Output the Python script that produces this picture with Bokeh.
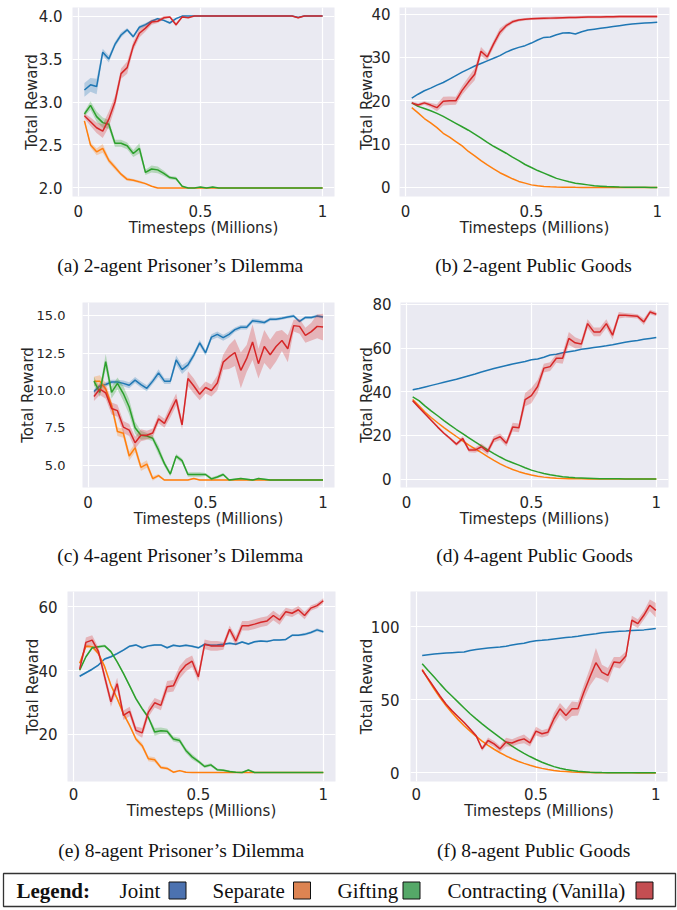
import numpy as np
from bokeh.plotting import figure
from bokeh.layouts import column, row
from bokeh.models import Range1d, FixedTicker
from bokeh.core.properties import value
from bokeh.embed import file_html
from bokeh.resources import INLINE

# ---------------- data ----------------
TIMESTEPS = [0.025, 0.05, 0.075, 0.1, 0.125, 0.15, 0.175, 0.2, 0.225, 0.25,
             0.275, 0.3, 0.325, 0.35, 0.375, 0.4, 0.425, 0.45, 0.475, 0.5,
             0.525, 0.55, 0.575, 0.6, 0.625, 0.65, 0.675, 0.7, 0.725, 0.75,
             0.775, 0.8, 0.825, 0.85, 0.875, 0.9, 0.925, 0.95, 0.975, 1.0]

METHODS = ["Joint", "Separate", "Gifting", "Contracting (Vanilla)"]
LINE_COLORS = ["#1f77b4", "#ff7f0e", "#2ca02c", "#d62728"]
LEGEND_COLORS = ["#4c72b0", "#dd8452", "#55a868", "#c44e52"]

X_TICKS = [0, 0.5, 1]
X_TICK_LABELS = ["0", "0.5", "1"]

# (a) 2-agent Prisoner's Dilemma
a_joint = [3.14, 3.20, 3.18, 3.58, 3.50, 3.67, 3.78, 3.84, 3.76, 3.87,
           3.90, 3.94, 3.97, 3.95, 3.92, 3.97, 4.0, 4.0, 4.0, 4.0,
           4.0, 4.0, 4.0, 4.0, 4.0, 4.0, 4.0, 4.0, 4.0, 4.0,
           4.0, 4.0, 4.0, 4.0, 4.0, 3.985, 4.0, 4.0, 4.0, 4.0]
a_joint_sd = [0.08, 0.08, 0.09, 0.04, 0.04, 0.03, 0.03, 0.02, 0.02, 0.02,
              0.02, 0.015, 0.01, 0.01, 0.015, 0.01, 0.005, 0.0, 0.0, 0.0,
              0.0, 0.0, 0.0, 0.0, 0.0, 0.0, 0.0, 0.0, 0.0, 0.0,
              0.0, 0.0, 0.0, 0.0, 0.0, 0.01, 0.0, 0.0, 0.0, 0.0]
a_sep = [2.78, 2.50, 2.42, 2.46, 2.32, 2.24, 2.16, 2.10, 2.09, 2.07,
         2.05, 2.02, 2.0, 2.0, 2.0, 2.0, 2.0, 2.0, 2.0, 2.0,
         2.0, 2.0, 2.0, 2.0, 2.0, 2.0, 2.0, 2.0, 2.0, 2.0,
         2.0, 2.0, 2.0, 2.0, 2.0, 2.0, 2.0, 2.0, 2.0, 2.0]
a_sep_sd = [0.02, 0.03, 0.04, 0.05, 0.03, 0.03, 0.02, 0.02, 0.015, 0.015,
            0.01, 0.005, 0.0, 0.0, 0.0, 0.0, 0.0, 0.0, 0.0, 0.0,
            0.0, 0.0, 0.0, 0.0, 0.0, 0.0, 0.0, 0.0, 0.0, 0.0,
            0.0, 0.0, 0.0, 0.0, 0.0, 0.0, 0.0, 0.0, 0.0, 0.0]
a_gift = [2.86, 2.96, 2.83, 2.76, 2.74, 2.52, 2.52, 2.49, 2.40, 2.46,
          2.18, 2.22, 2.21, 2.17, 2.12, 2.11, 2.02, 2.0, 2.0, 2.01,
          2.0, 2.01, 2.0, 2.0, 2.0, 2.0, 2.0, 2.0, 2.0, 2.0,
          2.0, 2.0, 2.0, 2.0, 2.0, 2.0, 2.0, 2.0, 2.0, 2.0]
a_gift_sd = [0.03, 0.05, 0.06, 0.06, 0.05, 0.04, 0.04, 0.04, 0.04, 0.06,
             0.03, 0.04, 0.04, 0.03, 0.02, 0.02, 0.01, 0.0, 0.0, 0.005,
             0.0, 0.005, 0.0, 0.0, 0.0, 0.0, 0.0, 0.0, 0.0, 0.0,
             0.0, 0.0, 0.0, 0.0, 0.0, 0.0, 0.0, 0.0, 0.0, 0.0]
a_con = [2.84, 2.77, 2.70, 2.66, 2.80, 3.00, 3.33, 3.40, 3.65, 3.80,
         3.86, 3.93, 3.94, 3.98, 3.99, 3.90, 3.99, 3.98, 4.0, 4.0,
         4.0, 4.0, 4.0, 4.0, 4.0, 4.0, 4.0, 4.0, 4.0, 4.0,
         4.0, 4.0, 4.0, 4.0, 4.0, 3.98, 4.0, 4.0, 4.0, 4.0]
a_con_sd = [0.03, 0.05, 0.06, 0.08, 0.09, 0.07, 0.06, 0.07, 0.05, 0.05,
            0.04, 0.03, 0.02, 0.02, 0.01, 0.02, 0.01, 0.0, 0.0, 0.0,
            0.0, 0.0, 0.0, 0.0, 0.0, 0.0, 0.0, 0.0, 0.0, 0.0,
            0.0, 0.0, 0.0, 0.0, 0.0, 0.01, 0.0, 0.0, 0.0, 0.0]
A_YTICKS = [2.0, 2.5, 3.0, 3.5, 4.0]
A_YLABELS = ["2.0", "2.5", "3.0", "3.5", "4.0"]

# (b) 2-agent Public Goods
b_joint = [20.6, 21.5, 22.3, 22.9, 23.6, 24.2, 25.0, 25.8, 26.6, 27.3,
           28.0, 28.6, 29.2, 29.8, 30.4, 31.2, 31.8, 32.3, 32.7, 33.3,
           34.0, 34.6, 34.7, 35.2, 35.6, 35.7, 35.4, 35.9, 36.3, 36.5,
           36.7, 36.9, 37.1, 37.3, 37.5, 37.7, 37.8, 37.9, 38.0, 38.1]
b_sep = [18.4, 17.2, 15.9, 14.9, 13.8, 12.5, 11.6, 10.6, 9.6, 8.3,
         7.3, 6.2, 5.2, 4.3, 3.4, 2.7, 2.0, 1.4, 1.0, 0.6,
         0.4, 0.25, 0.15, 0.1, 0.07, 0.05, 0.03, 0.02, 0.02, 0.01,
         0.01, 0.01, 0.0, 0.0, 0.0, 0.0, 0.0, 0.0, 0.0, 0.0]
b_gift = [19.5, 18.7, 18.2, 17.7, 17.1, 16.4, 15.6, 14.8, 14.0, 13.2,
          12.3, 11.4, 10.4, 9.5, 8.7, 7.9, 7.0, 6.2, 5.3, 4.6,
          3.9, 3.3, 2.7, 2.1, 1.7, 1.3, 1.0, 0.8, 0.6, 0.4,
          0.3, 0.2, 0.15, 0.1, 0.08, 0.05, 0.04, 0.03, 0.02, 0.02]
b_con = [19.5, 19.0, 19.5, 19.0, 18.4, 19.9, 20.0, 20.0, 22.4, 24.3,
         26.1, 31.4, 30.1, 33.1, 35.8, 37.3, 38.2, 38.6, 38.8, 38.9,
         38.95, 39.0, 39.05, 39.1, 39.15, 39.2, 39.2, 39.25, 39.3, 39.3,
         39.3, 39.35, 39.35, 39.4, 39.4, 39.4, 39.4, 39.4, 39.4, 39.4]
b_con_sd = [0.3, 0.4, 0.4, 0.5, 0.8, 1.0, 1.0, 0.9, 1.0, 1.2,
            1.4, 1.0, 0.8, 0.8, 0.9, 0.5, 0.4, 0.3, 0.3, 0.3,
            0.3, 0.3, 0.3, 0.3, 0.3, 0.3, 0.3, 0.3, 0.3, 0.3,
            0.3, 0.3, 0.3, 0.3, 0.3, 0.3, 0.3, 0.3, 0.3, 0.3]
B_YTICKS = [0, 10, 20, 30, 40]
B_YLABELS = ["0", "10", "20", "30", "40"]

# (c) 4-agent Prisoner's Dilemma
c_joint = [9.93, 10.3, 10.4, 10.57, 10.57, 10.48, 10.35, 10.7, 10.4, 10.15,
           10.63, 11.18, 10.63, 10.63, 12.05, 11.4, 11.72, 12.38, 13.19, 12.53,
           13.58, 13.76, 13.54, 13.76, 14.08, 14.24, 14.24, 14.67, 14.63, 14.56,
           14.78, 14.78, 14.85, 14.93, 15.0, 14.63, 14.9, 14.9, 15.0, 14.93]
c_joint_sd = [0.15, 0.15, 0.15, 0.15, 0.15, 0.2, 0.2, 0.2, 0.2, 0.2,
              0.2, 0.25, 0.2, 0.2, 0.3, 0.3, 0.25, 0.2, 0.2, 0.2,
              0.2, 0.2, 0.2, 0.2, 0.15, 0.15, 0.15, 0.15, 0.15, 0.12,
              0.12, 0.1, 0.1, 0.1, 0.1, 0.1, 0.1, 0.1, 0.1, 0.1]
c_sep = [10.63, 10.63, 10.1, 9.0, 7.25, 7.14, 5.61, 6.16, 4.85, 5.07,
         4.1, 4.3, 4.0, 4.0, 4.0, 4.0, 4.0, 4.1, 4.0, 4.0,
         4.0, 4.0, 4.0, 4.0, 4.0, 4.0, 4.0, 4.0, 4.0, 4.0,
         4.0, 4.0, 4.0, 4.0, 4.0, 4.0, 4.0, 4.0, 4.0, 4.0]
c_sep_sd = [0.3, 0.4, 0.4, 0.3, 0.3, 0.3, 0.3, 0.3, 0.25, 0.25,
            0.15, 0.1, 0.03, 0.03, 0.03, 0.03, 0.03, 0.03, 0.03, 0.03,
            0.03, 0.03, 0.03, 0.03, 0.03, 0.03, 0.03, 0.03, 0.03, 0.03,
            0.03, 0.03, 0.03, 0.03, 0.03, 0.03, 0.03, 0.03, 0.03, 0.03]
c_gift = [10.63, 9.87, 11.94, 9.87, 10.48, 9.8, 8.9, 7.5, 7.0, 6.95,
          6.8, 6.0, 5.1, 4.4, 5.6, 5.3, 4.37, 4.37, 4.37, 4.37,
          4.08, 4.2, 4.37, 4.0, 4.05, 4.1, 4.05, 4.0, 4.1, 4.05,
          4.0, 4.0, 4.0, 4.0, 4.0, 4.0, 4.0, 4.0, 4.0, 4.0]
c_gift_sd = [0.3, 0.3, 0.5, 0.4, 0.4, 0.5, 0.5, 0.4, 0.3, 0.2,
             0.2, 0.3, 0.2, 0.15, 0.15, 0.15, 0.15, 0.15, 0.15, 0.1,
             0.1, 0.1, 0.1, 0.05, 0.05, 0.05, 0.05, 0.05, 0.05, 0.05,
             0.05, 0.05, 0.05, 0.05, 0.05, 0.05, 0.05, 0.05, 0.05, 0.05]
c_con = [9.6, 10.1, 9.85, 8.8, 8.65, 7.55, 7.35, 6.5, 7.0, 7.0,
         7.15, 8.1, 7.8, 8.6, 9.4, 7.7, 10.8, 10.3, 9.75, 10.2,
         10.0, 10.5, 11.9, 12.25, 12.55, 11.35, 12.15, 13.25, 11.8, 12.95,
         12.4, 12.95, 13.35, 12.8, 14.35, 14.3, 13.7, 13.95, 14.3, 14.25]
c_con_sd = [0.3, 0.4, 0.4, 0.4, 0.4, 0.4, 0.4, 0.4, 0.4, 0.3,
            0.3, 0.3, 0.3, 0.4, 0.4, 0.3, 0.5, 0.5, 0.4, 0.4,
            0.4, 0.5, 0.5, 0.8, 0.9, 1.2, 0.9, 1.2, 1.0, 1.1,
            1.0, 1.0, 0.7, 0.9, 0.4, 0.5, 0.5, 0.6, 0.8, 0.9]
C_YTICKS = [5.0, 7.5, 10.0, 12.5, 15.0]
C_YLABELS = ["5.0", "7.5", "10.0", "12.5", "15.0"]

# (d) 4-agent Public Goods
d_joint = [40.9, 41.5, 42.2, 42.9, 43.6, 44.3, 45.0, 45.7, 46.5, 47.3,
           48.1, 49.0, 49.8, 50.6, 51.3, 52.0, 52.7, 53.3, 53.8, 54.6,
           55.0, 55.8, 56.8, 57.2, 57.8, 58.3, 58.8, 59.4, 59.8, 60.2,
           60.6, 61.0, 61.5, 62.1, 62.6, 63.1, 63.5, 64.0, 64.4, 64.8]
d_sep = [36.4, 33.6, 30.6, 28.1, 25.8, 23.6, 21.5, 19.5, 17.5, 15.6,
         13.8, 12.1, 10.3, 8.6, 7.0, 5.6, 4.4, 3.4, 2.6, 1.9,
         1.3, 0.9, 0.6, 0.4, 0.3, 0.2, 0.1, 0.1, 0.05, 0.05,
         0.03, 0.02, 0.02, 0.01, 0.01, 0.01, 0.0, 0.0, 0.0, 0.0]
d_gift = [37.6, 35.9, 33.4, 31.1, 29.0, 26.8, 24.7, 22.7, 20.8, 18.9,
          17.0, 15.2, 13.4, 11.7, 10.1, 8.6, 7.5, 6.4, 5.2, 4.1,
          3.3, 2.6, 2.0, 1.5, 1.1, 0.8, 0.6, 0.5, 0.4, 0.3,
          0.2, 0.15, 0.1, 0.1, 0.05, 0.05, 0.03, 0.02, 0.02, 0.02]
d_con = [35.9, 32.8, 29.8, 26.8, 23.8, 21.0, 18.6, 16.0, 18.6, 13.3,
         13.3, 14.8, 12.6, 18.2, 19.4, 16.4, 23.8, 23.5, 36.4, 38.2,
         42.4, 50.8, 51.5, 55.3, 55.3, 64.4, 62.4, 61.8, 71.2, 67.4,
         67.4, 71.2, 65.9, 75.0, 75.0, 74.8, 74.5, 72.0, 76.5, 75.5]
d_con_sd = [0.5, 0.5, 0.5, 0.5, 0.5, 0.6, 0.7, 0.8, 1.0, 1.0,
            1.2, 1.5, 1.5, 1.5, 1.5, 1.5, 2.0, 2.0, 3.0, 3.5,
            3.0, 2.0, 2.0, 2.0, 2.5, 3.0, 2.5, 2.0, 2.0, 2.0,
            2.0, 2.0, 2.0, 1.5, 1.0, 1.0, 1.0, 1.5, 1.0, 1.0]
D_YTICKS = [0, 20, 40, 60, 80]
D_YLABELS = ["0", "20", "40", "60", "80"]

# (e) 8-agent Prisoner's Dilemma
e_joint = [38.2, 39.3, 40.4, 41.7, 43.6, 44.3, 45.3, 46.4, 47.6, 48.0,
           47.1, 47.7, 48.0, 48.0, 47.1, 47.9, 47.6, 47.9, 47.6, 47.1,
           48.2, 47.9, 48.0, 48.2, 48.5, 48.2, 48.9, 48.3, 49.0, 49.2,
           49.1, 49.5, 49.5, 49.7, 51.0, 51.0, 51.3, 51.9, 52.7, 52.1]
e_joint_sd = [0.3, 0.3, 0.3, 0.3, 0.3, 0.3, 0.3, 0.3, 0.3, 0.3,
              0.3, 0.3, 0.3, 0.3, 0.3, 0.3, 0.3, 0.3, 0.3, 0.3,
              0.3, 0.3, 0.3, 0.3, 0.3, 0.3, 0.3, 0.3, 0.3, 0.3,
              0.3, 0.3, 0.3, 0.3, 0.3, 0.3, 0.4, 0.4, 0.5, 0.4]
e_sep = [42.3, 47.6, 47.4, 45.3, 41.2, 35.4, 31.2, 26.5, 22.8, 18.6,
         16.5, 12.4, 12.1, 9.7, 9.4, 8.2, 8.7, 8.2, 8.1, 8.1,
         8.1, 8.1, 8.1, 8.1, 8.1, 8.1, 8.1, 8.1, 8.1, 8.1,
         8.1, 8.1, 8.1, 8.1, 8.1, 8.1, 8.1, 8.1, 8.1, 8.1]
e_sep_sd = [0.3, 0.5, 0.5, 0.5, 0.5, 0.5, 0.5, 0.5, 0.6, 0.6,
            0.8, 0.8, 0.8, 0.5, 0.4, 0.3, 0.3, 0.2, 0.1, 0.1,
            0.1, 0.1, 0.1, 0.1, 0.1, 0.1, 0.1, 0.1, 0.1, 0.1,
            0.1, 0.1, 0.1, 0.1, 0.1, 0.1, 0.1, 0.1, 0.1, 0.1]
e_gift = [40.1, 44.3, 47.1, 47.4, 47.7, 45.9, 42.7, 39.1, 35.2, 31.2,
          28.1, 25.3, 20.8, 21.2, 21.0, 18.6, 18.1, 15.0, 13.0, 11.6,
          10.0, 10.5, 9.0, 8.8, 8.4, 8.2, 8.1, 8.9, 8.1, 8.1,
          8.1, 8.1, 8.1, 8.1, 8.1, 8.1, 8.1, 8.1, 8.1, 8.1]
e_gift_sd = [0.3, 0.4, 0.4, 0.4, 0.4, 0.4, 0.4, 0.4, 0.5, 0.5,
             0.5, 0.6, 1.2, 1.0, 0.8, 0.8, 0.8, 0.8, 0.8, 0.6,
             0.5, 0.5, 0.4, 0.3, 0.3, 0.2, 0.2, 0.2, 0.1, 0.1,
             0.1, 0.1, 0.1, 0.1, 0.1, 0.1, 0.1, 0.1, 0.1, 0.1]
e_con = [40.5, 48.8, 49.5, 46.0, 38.0, 30.2, 35.9, 26.0, 27.2, 21.3,
         20.5, 27.0, 29.9, 29.1, 34.9, 35.2, 39.4, 41.7, 42.9, 38.0,
         48.2, 47.7, 47.7, 47.7, 52.9, 49.2, 54.0, 54.0, 54.5, 55.1,
         55.5, 57.2, 55.8, 58.4, 57.9, 59.0, 57.2, 59.5, 60.3, 61.8]
e_con_sd = [1.0, 1.5, 1.5, 1.2, 1.5, 1.5, 1.8, 1.5, 1.5, 1.2,
            1.5, 1.5, 1.5, 1.5, 1.8, 1.8, 2.0, 2.0, 1.8, 1.5,
            1.5, 1.5, 1.5, 1.2, 1.2, 1.5, 1.5, 1.5, 1.5, 1.5,
            1.5, 1.5, 1.5, 1.2, 1.2, 1.2, 1.2, 0.8, 0.8, 0.8]
E_YTICKS = [20, 40, 60]
E_YLABELS = ["20", "40", "60"]

# (f) 8-agent Public Goods
f_joint = [80.5, 81.0, 81.4, 81.8, 82.2, 82.4, 82.6, 82.8, 83.8, 84.6,
           85.1, 85.5, 85.9, 86.3, 86.8, 87.6, 88.3, 88.8, 89.9, 90.6,
           90.9, 91.3, 91.8, 92.3, 92.8, 93.2, 93.7, 94.3, 94.9, 95.4,
           96.0, 96.4, 96.7, 97.0, 97.2, 97.5, 97.8, 98.0, 98.5, 98.9]
f_sep = [70.9, 64.0, 57.5, 51.5, 46.0, 41.0, 36.5, 32.3, 28.5, 25.0,
         21.8, 18.9, 16.2, 13.8, 11.6, 9.7, 8.0, 6.5, 5.2, 4.1,
         3.1, 2.3, 1.7, 1.2, 0.9, 0.6, 0.4, 0.3, 0.2, 0.1,
         0.1, 0.05, 0.05, 0.03, 0.02, 0.02, 0.01, 0.01, 0.0, 0.0]
f_gift = [74.8, 70.1, 65.7, 61.0, 56.5, 52.5, 48.5, 44.5, 40.5, 37.0,
          33.6, 30.3, 27.2, 24.1, 21.1, 18.4, 15.8, 13.4, 11.2, 9.2,
          7.3, 5.7, 4.3, 3.2, 2.3, 1.7, 1.1, 0.8, 0.5, 0.35,
          0.2, 0.15, 0.1, 0.1, 0.05, 0.05, 0.05, 0.03, 0.03, 0.03]
f_con = [70.3, 64.5, 58.5, 52.5, 47.0, 42.5, 38.5, 34.5, 30.0, 25.5,
         16.5, 22.2, 19.9, 16.5, 21.1, 20.5, 22.2, 23.3, 20.6, 28.6,
         26.8, 27.9, 37.1, 43.9, 39.4, 43.9, 43.9, 55.4, 65.7, 75.5,
         69.1, 66.8, 76.0, 75.5, 80.1, 104.6, 102.3, 108.0, 114.9, 111.4]
f_con_sd = [0.5, 0.5, 0.5, 0.5, 0.5, 0.5, 0.6, 0.8, 1.0, 1.0,
            1.5, 2.0, 2.0, 2.0, 3.0, 2.5, 2.5, 3.0, 2.5, 3.0,
            2.5, 2.5, 4.0, 4.0, 4.0, 5.0, 4.5, 5.0, 6.0, 10.0,
            5.0, 5.0, 3.5, 4.0, 3.0, 3.0, 3.0, 3.0, 4.0, 5.0]
F_YTICKS = [0, 50, 100]
F_YLABELS = ["0", "50", "100"]

CAPTIONS = ["(a) 2-agent Prisoner\u2019s Dilemma", "(b) 2-agent Public Goods",
            "(c) 4-agent Prisoner\u2019s Dilemma", "(d) 4-agent Public Goods",
            "(e) 8-agent Prisoner\u2019s Dilemma", "(f) 8-agent Public Goods"]

PANELS = {
    "a": dict(series=[a_joint, a_sep, a_gift, a_con], sds=[a_joint_sd, a_sep_sd, a_gift_sd, a_con_sd],
              yticks=A_YTICKS, ylabels=A_YLABELS, ylim=(1.9, 4.1)),
    "b": dict(series=[b_joint, b_sep, b_gift, b_con], sds=[None, None, None, b_con_sd],
              yticks=B_YTICKS, ylabels=B_YLABELS, ylim=(-2.08, 41.5)),
    "c": dict(series=[c_joint, c_sep, c_gift, c_con], sds=[c_joint_sd, c_sep_sd, c_gift_sd, c_con_sd],
              yticks=C_YTICKS, ylabels=C_YLABELS, ylim=(3.5, 15.9)),
    "d": dict(series=[d_joint, d_sep, d_gift, d_con], sds=[None, None, None, d_con_sd],
              yticks=D_YTICKS, ylabels=D_YLABELS, ylim=(-3.85, 80.85)),
    "e": dict(series=[e_joint, e_sep, e_gift, e_con], sds=[e_joint_sd, e_sep_sd, e_gift_sd, e_con_sd],
              yticks=E_YTICKS, ylabels=E_YLABELS, ylim=(5.3, 64.7)),
    "f": dict(series=[f_joint, f_sep, f_gift, f_con], sds=[None, None, None, f_con_sd],
              yticks=F_YTICKS, ylabels=F_YLABELS, ylim=(-5.9, 124.3)),
}

# ---------------- layout / style ----------------
XLIM = (-0.02375, 1.04875)
LAYOUT = {
    "a": dict(w=338, h=250, left=72, right=4, top=6, fh=190, ystand=4, ylab=-5, xstand=2, ysize="15px"),
    "b": dict(w=339, h=250, left=61, right=8, top=7, fh=190, ystand=3, ylab=-8, xstand=2, ysize="15px"),
    "c": dict(w=338, h=250, left=82, right=4, top=8, fh=189, ystand=11, ylab=-3, xstand=2, ysize="13px"),
    "d": dict(w=339, h=250, left=62, right=9, top=12, fh=186, ystand=3, ylab=-7, xstand=2, ysize="15px"),
    "e": dict(w=338, h=255, left=67, right=3, top=11, fh=190, ystand=4, ylab=-7, xstand=0, ysize="15px"),
    "f": dict(w=339, h=255, left=72, right=10, top=11, fh=190, ystand=5, ylab=-8, xstand=0, ysize="15px"),
}
AX_FONT = "DejaVu Sans"
AX_SIZE = "15px"
TXT = "#262626"
SERIF = "Liberation Serif"


def make_panel(key):
    d = PANELS[key]
    L = LAYOUT[key]
    p = figure(width=L["w"], height=L["h"],
               x_range=Range1d(*XLIM), y_range=Range1d(*d["ylim"]),
               output_backend="svg", toolbar_location=None,
               min_border_left=L["left"], min_border_right=L["right"],
               min_border_top=L["top"], min_border_bottom=L["h"] - L["top"] - L["fh"])
    p.background_fill_color = "#eaeaf2"
    p.border_fill_color = "white"
    p.outline_line_color = None

    x = np.array(TIMESTEPS)
    for ys, sd, col in zip(d["series"], d["sds"], LINE_COLORS):
        y = np.array(ys)
        if sd is not None:
            s = np.array(sd)
            p.varea(x=x, y1=y - s, y2=y + s, fill_color=col, fill_alpha=0.28)
        p.line(x, y, line_color=col, line_width=1.5)

    p.xaxis.ticker = FixedTicker(ticks=X_TICKS)
    p.xaxis.major_label_overrides = {t: l for t, l in zip(X_TICKS, X_TICK_LABELS)}
    p.yaxis.ticker = FixedTicker(ticks=d["yticks"])
    p.yaxis.major_label_overrides = {t: l for t, l in zip(d["yticks"], d["ylabels"])}
    p.xgrid.ticker = FixedTicker(ticks=X_TICKS)
    p.ygrid.ticker = FixedTicker(ticks=d["yticks"])
    for g in (p.xgrid, p.ygrid):
        g.grid_line_color = "white"
        g.grid_line_width = 1.2

    p.xaxis.axis_label = "Timesteps (Millions)"
    p.yaxis.axis_label = "Total Reward"
    for ax in (p.xaxis, p.yaxis):
        ax.axis_line_color = None
        ax.major_tick_line_color = None
        ax.minor_tick_line_color = None
        ax.major_label_text_font = AX_FONT
        ax.major_label_text_font_size = AX_SIZE
        ax.major_label_text_color = TXT
        ax.axis_label_text_font = AX_FONT
        ax.axis_label_text_font_size = AX_SIZE
        ax.axis_label_text_font_style = "normal"
        ax.axis_label_text_color = TXT
    p.yaxis.major_label_text_font_size = L["ysize"]
    p.xaxis.major_label_standoff = L["xstand"]
    p.xaxis.axis_label_standoff = -1
    p.yaxis.major_label_standoff = L["ystand"]
    p.yaxis.axis_label_standoff = L["ylab"]
    return p


def caption_strip(h, yc, texts, xs):
    p = figure(width=677, height=h, x_range=Range1d(0, 677), y_range=Range1d(h, 0),
               output_backend="svg", toolbar_location=None, min_border=0,
               x_axis_location=None, y_axis_location=None)
    p.grid.visible = False
    p.outline_line_color = None
    p.text(x=xs, y=[yc] * len(texts), text=texts, text_align="center",
           text_baseline="middle", text_font=value(SERIF), text_font_size="19.5px",
           text_color="#111111")
    return p


def legend_strip():
    p = figure(width=677, height=40, x_range=Range1d(3, 675), y_range=Range1d(36, 3),
               output_backend="svg", toolbar_location=None,
               min_border_left=3, min_border_right=2, min_border_top=3, min_border_bottom=4,
               x_axis_location=None, y_axis_location=None)
    p.grid.visible = False
    p.outline_line_color = "#333333"
    p.outline_line_width = 1.3
    p.text(x=[16], y=[20], text=["Legend:"], text_align="left", text_baseline="middle",
           text_font=value(SERIF), text_font_size="21px", text_font_style="bold",
           text_color="#111111")
    label_x = [119, 212, 337, 447]
    square_x = [177, 301.5, 411, 644]
    p.text(x=label_x, y=[20] * 4, text=METHODS, text_align="left", text_baseline="middle",
           text_font=value(SERIF), text_font_size="21px", text_color="#111111")
    p.scatter(x=square_x, y=[20] * 4, marker="square", size=17, fill_color=LEGEND_COLORS,
              line_color="#111111", line_width=1)
    return p


pa, pb, pc, pd_, pe, pf = (make_panel(k) for k in "abcdef")
cap1 = caption_strip(40, 15, CAPTIONS[0:2], [178, 534])
cap2 = caption_strip(40, 15, CAPTIONS[2:4], [178, 535])
cap3 = caption_strip(35, 15, CAPTIONS[4:6], [179, 534])
leg = legend_strip()

layout = column(row(pa, pb, spacing=0), cap1, row(pc, pd_, spacing=0), cap2,
                row(pe, pf, spacing=0), cap3, leg, spacing=0)

open("out.html", "w").write(file_html(layout, INLINE))
